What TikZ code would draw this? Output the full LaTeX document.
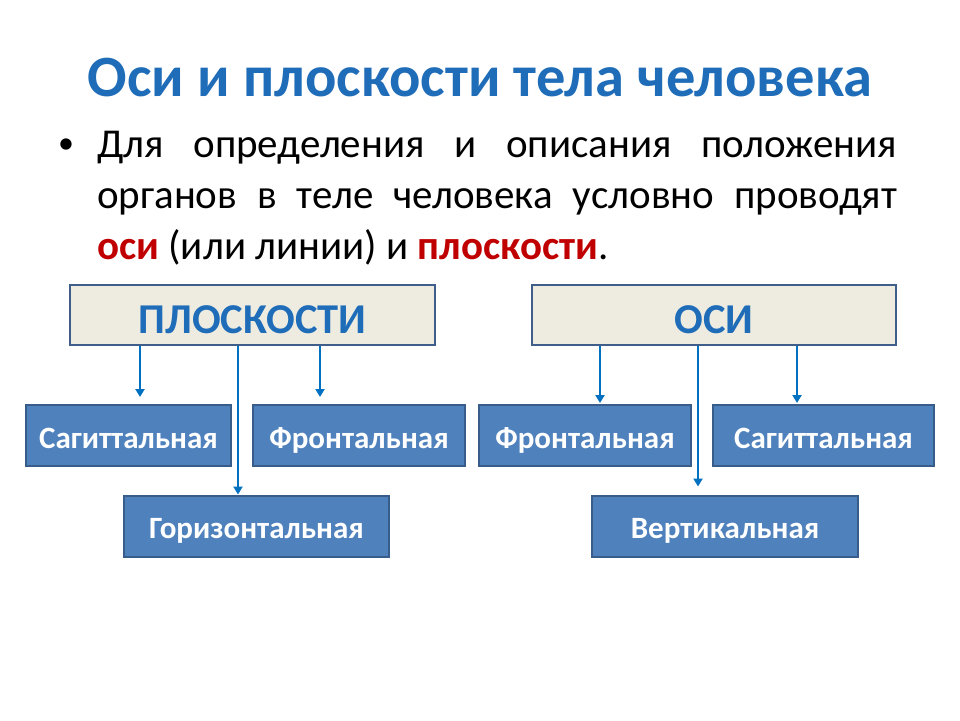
\documentclass[tikz,border=0pt]{standalone}
\usepackage{fontspec}
\setmainfont{Carlito}
\usetikzlibrary{arrows.meta}
\definecolor{titleblue}{HTML}{1F6DB8}
\definecolor{darkred}{HTML}{C00000}
\definecolor{beige}{HTML}{EEECE1}
\definecolor{headborder}{HTML}{3F5F8A}
\definecolor{boxfill}{HTML}{4F81BD}
\definecolor{boxborder}{HTML}{385D8A}
\definecolor{arrblue}{HTML}{0070C0}
\tikzset{
  headbox/.style={draw=headborder, fill=beige, line width=2.5pt, inner sep=0pt,
    text height=40pt, text depth=4pt,
    text=titleblue, font=\bfseries\fontsize{42.5}{42.5}\selectfont},
  subbox/.style={draw=boxborder, fill=boxfill, line width=2pt, inner sep=0pt,
    text height=28pt, text depth=3pt,
    minimum height=61pt, text=white, font=\bfseries\fontsize{31}{31}\selectfont},
  arr/.style={draw=arrblue, line width=2.6pt, -{Triangle[length=8pt,width=9pt]}},
  bodyline/.style={anchor=base west, inner sep=0pt, font=\fontsize{41}{41}\selectfont}
}
\begin{document}
\begin{tikzpicture}[x=1pt,y=-1pt]
\useasboundingbox[fill=white] (0,0) rectangle (960,720);
\node[anchor=base, inner sep=0pt, text=titleblue, font=\bfseries\fontsize{58.5}{58.5}\selectfont] (title) at (480,96) {Оси и плоскости тела человека};
\node[anchor=base, inner sep=0pt, font=\fontsize{32}{32}\selectfont] (bullet) at (66,153) {•};
\node[bodyline] (l1) at (97,157) {\makebox[800pt][s]{Для\hfill определения\hfill и\hfill описания\hfill положения}};
\node[bodyline] (l2) at (97,208) {\makebox[800pt][s]{органов\hfill в\hfill теле\hfill человека\hfill условно\hfill проводят}};
\node[bodyline] (l3) at (97,259) {{\color{darkred}\bfseries оси} (или линии) и {\color{darkred}\bfseries плоскости}.};

\node[headbox, minimum width=365pt, minimum height=60pt] (pl) at (252.5,315) {ПЛОСКОСТИ};
\node[headbox, minimum width=364pt, minimum height=60pt] (osi) at (714,315) {ОСИ};

\node[subbox, minimum width=205pt] (sag1) at (128.5,435.5) {Сагиттальная};
\node[subbox, minimum width=212pt] (fr1) at (359,435.5) {Фронтальная};
\node[subbox, minimum width=265pt] (hor) at (256.5,526) {Горизонтальная};
\node[subbox, minimum width=212pt] (fr2) at (585,435.5) {Фронтальная};
\node[subbox, minimum width=221pt] (sag2) at (823.5,435.5) {Сагиттальная};
\node[subbox, minimum width=266pt] (ver) at (725,526) {Вертикальная};

\draw[arr] ([xshift=11.5pt]sag1.north |- pl.south) -- ([xshift=11.5pt,yshift=7pt]sag1.north);
\draw[arr] ([xshift=-18.5pt]hor.north |- pl.south) -- ([xshift=-18.5pt]hor.north);
\draw[arr] ([xshift=-39pt]fr1.north |- pl.south) -- ([xshift=-39pt,yshift=7pt]fr1.north);
\draw[arr] ([xshift=15pt]fr2.north |- osi.south) -- ([xshift=15pt,yshift=1pt]fr2.north);
\draw[arr] ([xshift=-27pt]ver.north |- osi.south) -- ([xshift=-27pt,yshift=8pt]ver.north);
\draw[arr] ([xshift=-26.5pt]sag2.north |- osi.south) -- ([xshift=-26.5pt,yshift=1pt]sag2.north);
\end{tikzpicture}
\end{document}
